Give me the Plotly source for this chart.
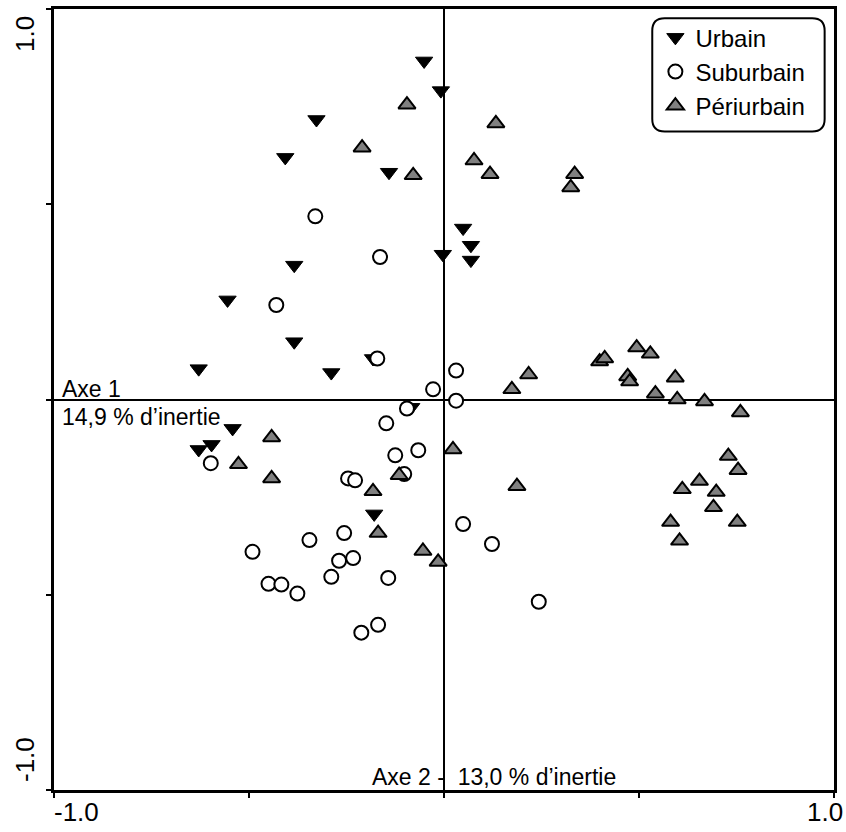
import plotly.graph_objects as go

# Factor map coordinates of the observation sites, by settlement type
urbain_x = [-0.051, -0.008, -0.327, -0.407, -0.141, 0.049, 0.069, -0.003, 0.069, -0.384,
            -0.555, -0.384, -0.629, -0.182, -0.289, -0.084, -0.542, -0.596, -0.629, -0.179]
urbain_y = [0.867, 0.791, 0.717, 0.620, 0.582, 0.439, 0.395, 0.372, 0.357, 0.344,
            0.255, 0.148, 0.079, 0.105, 0.069, -0.020, -0.074, -0.115, -0.128, -0.293]

suburbain_x = [-0.330, -0.164, -0.430, -0.171, 0.031, -0.028, 0.031, -0.095, -0.148, -0.066,
               -0.125, -0.102, -0.246, -0.228, -0.598, 0.049, 0.123, 0.243, -0.491, -0.345,
               -0.256, -0.233, -0.269, -0.289, -0.143, -0.450, -0.417, -0.376, -0.169, -0.212]
suburbain_y = [0.469, 0.365, 0.242, 0.105, 0.074, 0.026, -0.003, -0.023, -0.061, -0.130,
               -0.143, -0.191, -0.202, -0.207, -0.163, -0.319, -0.370, -0.518, -0.390, -0.360,
               -0.342, -0.406, -0.413, -0.454, -0.457, -0.472, -0.474, -0.497, -0.577, -0.597]

periurbain_x = [-0.095, -0.210, -0.079, 0.133, 0.077, 0.118, 0.335, 0.325,
                0.399, 0.412, 0.494, 0.529, 0.471, 0.476, 0.217, 0.174, 0.542, 0.593,
                0.598, 0.668, 0.760, 0.729, 0.754, 0.655, 0.611, 0.698, 0.691, 0.581,
                0.604, 0.752, 0.187,
                -0.442, -0.527, -0.442, -0.115, -0.182, 0.023, -0.169, -0.054, -0.015]
periurbain_y = [0.755, 0.645, 0.574, 0.707, 0.612, 0.577, 0.577, 0.543,
                0.097, 0.105, 0.133, 0.117, 0.059, 0.046, 0.064, 0.026, 0.015, 0.056,
                0.000, -0.005, -0.033, -0.145, -0.181, -0.209, -0.230, -0.237, -0.276, -0.314,
                -0.362, -0.314, -0.222,
                -0.097, -0.166, -0.202, -0.194, -0.235, -0.128, -0.342, -0.388, -0.416]

axis_ticks = [-1.0, -0.5, 0.0, 0.5, 1.0]

FONT = "Arial, Liberation Sans, sans-serif"

fig = go.Figure()

fig.add_trace(go.Scatter(
    x=urbain_x, y=urbain_y, mode="markers", name="Urbain",
    marker=dict(symbol="triangle-down", size=15, color="black",
                line=dict(color="black", width=1)),
))
fig.add_trace(go.Scatter(
    x=suburbain_x, y=suburbain_y, mode="markers", name="Suburbain",
    marker=dict(symbol="circle", size=14, color="white",
                line=dict(color="black", width=2)),
))
fig.add_trace(go.Scatter(
    x=periurbain_x, y=periurbain_y, mode="markers", name="Périurbain",
    marker=dict(symbol="triangle-up", size=15, color="#808080",
                line=dict(color="black", width=2)),
))

axis_common = dict(
    range=[-1, 1], tickvals=axis_ticks, showticklabels=False,
    ticks="outside", ticklen=5, tickwidth=2, tickcolor="black",
    showline=True, linecolor="black", linewidth=3, mirror=True,
    showgrid=False, zeroline=True, zerolinecolor="black", zerolinewidth=1.5,
)
fig.update_xaxes(**axis_common)
fig.update_yaxes(**axis_common)

tick_font = dict(family=FONT, size=26, color="black")
title_font = dict(family=FONT, size=23, color="black")

annotations = [
    # axis end labels
    dict(text="-1.0", x=-1, y=0, xref="x", yref="paper", xshift=22, yshift=-22,
         xanchor="center", yanchor="middle", font=tick_font),
    dict(text="1.0", x=1, y=0, xref="x", yref="paper", xshift=-9, yshift=-22,
         xanchor="center", yanchor="middle", font=tick_font),
    dict(text="1.0", x=0, y=1, xref="paper", yref="y", xshift=-29, yshift=-25,
         textangle=-90, xanchor="center", yanchor="middle", font=tick_font),
    dict(text="-1.0", x=0, y=-1, xref="paper", yref="y", xshift=-29, yshift=30,
         textangle=-90, xanchor="center", yanchor="middle", font=tick_font),
    # axis titles
    dict(text="Axe 1", x=-1, y=0, xref="x", yref="y", xshift=6, yshift=-4,
         xanchor="left", yanchor="bottom", font=title_font),
    dict(text="14,9 % d’inertie", x=-1, y=0, xref="x", yref="y", xshift=6, yshift=-17,
         xanchor="left", yanchor="middle", font=title_font),
    dict(text="Axe 2 -\u00a0\u00a013,0 % d’inertie", x=0, y=-1, xref="x", yref="y",
         xshift=50, yshift=-2, xanchor="center", yanchor="bottom", font=title_font),
]
for a in annotations:
    a.update(showarrow=False)

# rounded frame around the legend
x0, x1, y0, y1 = 0.767, 0.988, 0.843, 0.988
rx, ry = 0.016, 0.016
legend_frame = (
    f"M {x0 + rx},{y1} L {x1 - rx},{y1} Q {x1},{y1} {x1},{y1 - ry} "
    f"L {x1},{y0 + ry} Q {x1},{y0} {x1 - rx},{y0} "
    f"L {x0 + rx},{y0} Q {x0},{y0} {x0},{y0 + ry} "
    f"L {x0},{y1 - ry} Q {x0},{y1} {x0 + rx},{y1} Z"
)

fig.update_layout(
    width=846, height=832,
    margin=dict(l=54, r=12, t=6, b=42),
    paper_bgcolor="white", plot_bgcolor="white",
    font=dict(family=FONT, size=23, color="black"),
    annotations=annotations,
    shapes=[dict(type="path", path=legend_frame, xref="paper", yref="paper",
                 line=dict(color="black", width=2), fillcolor="rgba(0,0,0,0)",
                 layer="above")],
    legend=dict(x=0.771, y=0.992, xanchor="left", yanchor="top",
                bgcolor="rgba(0,0,0,0)", borderwidth=0,
                font=dict(family=FONT, size=24, color="black"),
                itemsizing="trace", tracegroupgap=0),
    showlegend=True,
)

fig.write_html("out.html")
